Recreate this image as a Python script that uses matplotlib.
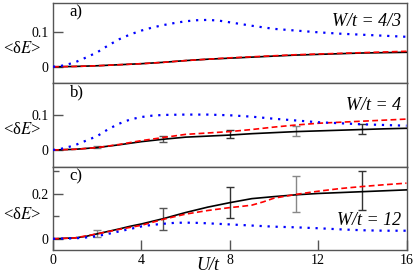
import numpy as np
import matplotlib
matplotlib.use('Agg')
import matplotlib.pyplot as plt
from matplotlib.ticker import MultipleLocator

plt.rcParams['font.family'] = 'Liberation Serif'
plt.rcParams['mathtext.fontset'] = 'stix'

# panel a) W/t = 4/3
Ua_blue = [0, 0.5, 1, 1.5, 2, 2.5, 3, 3.5, 4, 4.5, 5, 5.5, 6, 6.5, 7, 7.5, 8, 9, 10, 11, 12, 13, 14, 15, 16]
a_blue = [0, 0.004, 0.013, 0.027, 0.042, 0.062, 0.08, 0.094, 0.105, 0.114, 0.121, 0.127, 0.132, 0.135, 0.136, 0.134, 0.129,
          0.119, 0.110, 0.105, 0.100, 0.096, 0.093, 0.090, 0.087]
Ua = [0, 1, 2, 3, 4, 5, 6, 7, 8, 9, 10, 11, 12, 13, 14, 15, 16]
a_black = [0, 0.001, 0.003, 0.006, 0.009, 0.013, 0.018, 0.022, 0.025, 0.028, 0.031, 0.034, 0.036, 0.038, 0.040, 0.041, 0.042]
a_red = [0, 0.001, 0.003, 0.006, 0.009, 0.013, 0.018, 0.022, 0.026, 0.029, 0.032, 0.035, 0.037, 0.039, 0.041, 0.043, 0.045]

# panel b) W/t = 4
Ub_blue = [0, 0.5, 1, 1.5, 2, 2.5, 3, 3.5, 4, 4.5, 5, 6, 7, 8, 9, 10, 11, 12, 13, 14, 15, 16]
b_blue = [0, 0.005, 0.014, 0.027, 0.040, 0.060, 0.076, 0.088, 0.095, 0.099, 0.101, 0.102, 0.102, 0.100, 0.096, 0.090,
          0.085, 0.080, 0.077, 0.074, 0.072, 0.070]
b_black = [0, 0.002, 0.007, 0.015, 0.024, 0.031, 0.037, 0.040, 0.043, 0.047, 0.050, 0.053, 0.055, 0.057, 0.059, 0.061, 0.0625]
b_red = [0, 0.002, 0.007, 0.016, 0.027, 0.036, 0.045, 0.049, 0.053, 0.059, 0.066, 0.072, 0.077, 0.080, 0.083, 0.086, 0.089]
b_err_U = [2, 5, 8, 11, 14]
b_err_y = [0.008, 0.031, 0.046, 0.055, 0.060]
b_err = [0.003, 0.009, 0.012, 0.015, 0.015]

# panel c) W/t = 12
Uc_blue = [0, 1, 1.5, 2, 2.5, 3, 3.5, 4, 4.5, 5, 5.5, 6, 6.5, 7, 8, 9, 10, 11, 12, 13, 14, 15, 16]
c_blue = [0, 0.002, 0.006, 0.012, 0.022, 0.033, 0.044, 0.055, 0.062, 0.067, 0.071, 0.072, 0.071, 0.069, 0.064, 0.059,
          0.054, 0.051, 0.047, 0.042, 0.038, 0.036, 0.036]
Uc = [0, 1, 1.5, 2, 2.5, 3, 3.5, 4, 5, 6, 7, 8, 9, 10, 11, 12, 13, 14, 15, 16]
c_black = [0, 0.004, 0.011, 0.022, 0.033, 0.044, 0.056, 0.066, 0.090, 0.117, 0.141, 0.161, 0.179, 0.188, 0.196, 0.202,
           0.206, 0.210, 0.214, 0.218]
Uc_red = [0, 1, 2, 3, 4, 5, 6, 7, 8, 8.5, 9, 9.5, 10, 11, 12, 13, 14, 15, 16]
c_red = [0, 0.004, 0.022, 0.042, 0.060, 0.087, 0.110, 0.126, 0.139, 0.144, 0.150, 0.164, 0.181, 0.198, 0.212, 0.224,
         0.233, 0.241, 0.248]
c_err_U = [2, 5, 8, 11, 14]
c_err_y = [0.024, 0.089, 0.162, 0.198, 0.214]
c_err = [0.015, 0.050, 0.068, 0.080, 0.086]

err_colors = ['#888888', '#555555', '#333333', '#888888', '#333333']

fig = plt.figure(figsize=(4.15, 2.74), dpi=100)
W = 415.0
H = 274.0
left = 53 / W
width = 353.5 / W
ax_a = fig.add_axes([left, (H - 83) / H, width, 80 / H])
ax_b = fig.add_axes([left, (H - 167) / H, width, 84 / H])
ax_c = fig.add_axes([left, (H - 250) / H, width, 83 / H])


def draw(ax, Ub, blue, Uk, black, Ur, red):
    ax.plot(Uk, black, color='black', lw=1.2, zorder=3)
    ax.plot(Ur, red, color='red', lw=1.2, dashes=(3.5, 2), zorder=4)
    ax.plot(Ub, blue, color='blue', lw=1.6, linestyle=(0, (1, 2.6)), zorder=5)


def errs(ax, U, y, e):
    for u, yy, ee, col in zip(U, y, e, err_colors):
        ax.errorbar([u], [yy], yerr=[ee], fmt='none', ecolor=col, elinewidth=1.0, capsize=2.6, capthick=1.0, zorder=2)


draw(ax_a, Ua_blue, a_blue, Ua, a_black, Ua, a_red)
draw(ax_b, Ub_blue, b_blue, Ua, b_black, Ua, b_red)
errs(ax_b, b_err_U, b_err_y, b_err)
draw(ax_c, Uc_blue, c_blue, Uc, c_black, Uc_red, c_red)
errs(ax_c, c_err_U, c_err_y, c_err)

ax_a.set_ylim(-0.047, 0.185)
ax_b.set_ylim(-0.049, 0.193)
ax_c.set_ylim(-0.05, 0.32)
ax_a.set_yticks([0, 0.1])
ax_a.set_yticklabels(['0', '0.1'])
ax_b.set_yticks([0, 0.1])
ax_b.set_yticklabels(['0', '0.1'])
ax_c.set_yticks([0, 0.2])
ax_c.set_yticklabels(['0', '0.2'])
ax_c.yaxis.set_minor_locator(MultipleLocator(0.1))

for ax in (ax_a, ax_b, ax_c):
    ax.set_xlim(0, 16)
    ax.set_xticks([0, 4, 8, 12, 16])
    for s in ax.spines.values():
        s.set_color('#555555')
        s.set_linewidth(1.0)
    ax.tick_params(axis='y', direction='in', length=7, width=1, color='#555555', labelsize=10, pad=3)
    ax.tick_params(axis='y', which='minor', direction='in', length=4, width=1, color='#555555')
    ax.tick_params(axis='x', direction='in', length=7, width=1, color='#555555', labelsize=10, pad=3)

for ax in (ax_a, ax_b):
    ax.tick_params(axis='x', length=0, labelbottom=False)

for ax, lab, ly, wt, wy in ((ax_a, 'a)', 0.42, 'W/t = 4/3', 0.71),
                            (ax_b, 'b)', 0.44, 'W/t = 4', 0.68),
                            (ax_c, 'c)', 0.42, 'W/t = 12', 0.30)):
    ax.text(0.047, 0.98, lab, transform=ax.transAxes, ha='left', va='top', fontsize=12)
    ax.text(-0.088, ly, r'<δ$E$>', transform=ax.transAxes, ha='center', va='center', fontsize=12)
    ax.text(0.985, wy, wt, transform=ax.transAxes, ha='right', va='baseline', fontsize=13, style='italic')

fig.text(208 / W, (H - 266) / H, 'U/t', ha='center', va='center', fontsize=13, style='italic')

fig.savefig('out.png', dpi=100)
